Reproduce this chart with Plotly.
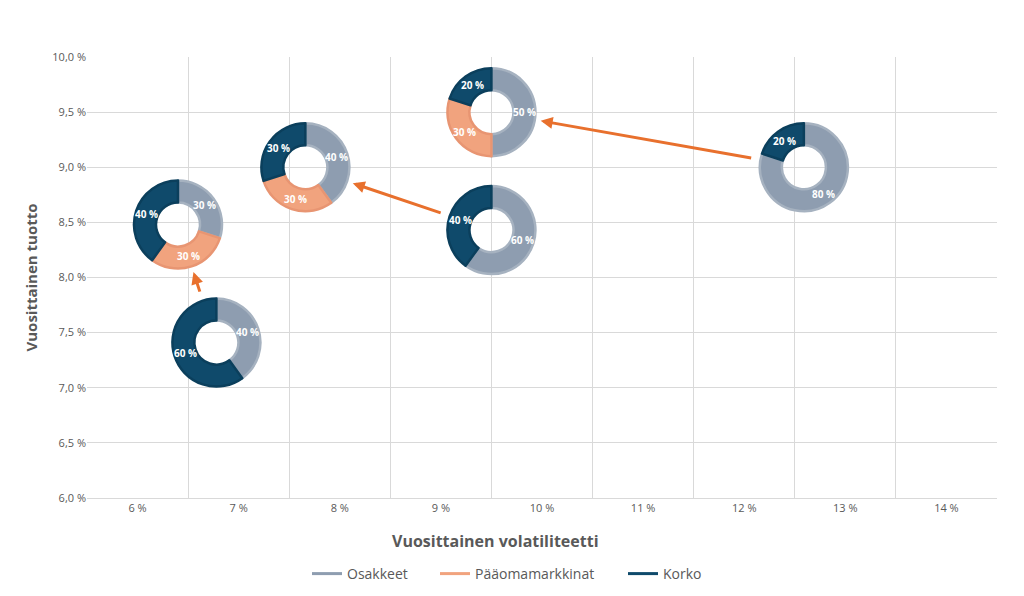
import math
import plotly.graph_objects as go

# ---- data ----
categories = ["Osakkeet", "Pääomamarkkinat", "Korko"]
colors = ["#8e9db0", "#f1a37e", "#0f4a6b"]
line_colors = ["#a6b2c0", "#e89572", "#0b3f5c"]

port_x = [6.40, 6.78, 7.66, 9.50, 9.50, 12.59]
port_y = [8.48, 7.41, 9.00, 8.43, 9.50, 9.00]
osakkeet = [30, 40, 40, 60, 50, 80]
paaoma = [30, 0, 30, 0, 30, 0]
korko = [40, 60, 30, 40, 20, 20]

# arrows: (from index, to index)
arrows = [(1, 0), (3, 2), (5, 4)]

x_ticks = [6, 7, 8, 9, 10, 11, 12, 13, 14]
x_ticklabels = ["6 %", "7 %", "8 %", "9 %", "10 %", "11 %", "12 %", "13 %", "14 %"]
y_ticks = [6.0, 6.5, 7.0, 7.5, 8.0, 8.5, 9.0, 9.5, 10.0]
y_ticklabels = ["6,0 %", "6,5 %", "7,0 %", "7,5 %", "8,0 %", "8,5 %", "9,0 %", "9,5 %", "10,0 %"]

# ---- layout geometry ----
W, H = 1024, 596
ML, MR, MT, MB = 87, 27, 57, 98
PW, PH = W - ML - MR, H - MT - MB
XR = [5.5, 14.5]
YR = [6.0, 10.0]
R_PX = 44
HOLE = 0.5
R_LBL = R_PX * (1 + HOLE) / 2

FONT = "Open Sans"
TXT = "#595959"

fig = go.Figure()

def to_dom(vx, vy):
    fx = (vx - XR[0]) / (XR[1] - XR[0])
    fy = (vy - YR[0]) / (YR[1] - YR[0])
    return fx, fy

# invisible scatter to hold axes
fig.add_trace(go.Scatter(x=port_x, y=port_y, mode="markers",
                         marker=dict(size=1, opacity=0), showlegend=False, hoverinfo="skip"))

for i in range(len(port_x)):
    vals = [osakkeet[i], paaoma[i], korko[i]]
    labs, v, c, lc = [], [], [], []
    for k in range(3):
        if vals[k] > 0:
            labs.append(categories[k]); v.append(vals[k]); c.append(colors[k]); lc.append(line_colors[k])
    fx, fy = to_dom(port_x[i], port_y[i])
    dx = R_PX / PW
    dy = R_PX / PH
    fig.add_trace(go.Pie(
        labels=labs, values=v, hole=HOLE, sort=False, direction="clockwise", rotation=0,
        marker=dict(colors=c, line=dict(color=lc, width=2.5)),
        textinfo="none",
        domain=dict(x=[fx - dx, fx + dx], y=[fy - dy, fy + dy]),
        showlegend=False, hoverinfo="label+value",
    ))
    # slice labels at mid-angle of each slice, mid-ring radius
    total = sum(v)
    cum = 0
    for val in v:
        mid = (cum + val / 2) / total * 2 * math.pi
        cum += val
        fig.add_annotation(x=port_x[i], y=port_y[i], xref="x", yref="y",
                           xshift=R_LBL * math.sin(mid), yshift=R_LBL * math.cos(mid),
                           text=f"<b>{val} %</b>", showarrow=False,
                           font=dict(family=FONT, size=10, color="white"))

for a, b in arrows:
    fig.add_annotation(x=port_x[b], y=port_y[b], ax=port_x[a], ay=port_y[a],
                       xref="x", yref="y", axref="x", ayref="y",
                       showarrow=True, arrowhead=2, arrowsize=0.8, arrowwidth=3,
                       arrowcolor="#e8702d", standoff=50, startstandoff=52, text="")

# legend dummy traces, each in its own legend for exact placement
legend_x_px = [307, 435, 623]
leg_names = ["legend", "legend2", "legend3"]
for k in range(3):
    fig.add_trace(go.Scatter(x=[None], y=[None], mode="lines", name=categories[k],
                             line=dict(color=colors[k], width=3), legend=leg_names[k]))

fig.add_annotation(text="<b>Vuosittainen volatiliteetti</b>", xref="paper", yref="paper",
                   x=(495 - ML) / PW, y=-(541 - MT - PH) / PH, showarrow=False,
                   font=dict(family=FONT, size=16, color=TXT), xanchor="center", yanchor="middle")
fig.add_annotation(text="<b>Vuosittainen tuotto</b>", xref="paper", yref="paper",
                   x=(30 - ML) / PW, y=0.5, showarrow=False, textangle=-90,
                   font=dict(family=FONT, size=15, color=TXT), xanchor="center", yanchor="middle")

leg_common = dict(orientation="h", yanchor="middle", y=-(574 - MT - PH) / PH,
                  xanchor="left", font=dict(size=14, color=TXT, family=FONT),
                  bgcolor="rgba(0,0,0,0)", itemwidth=30)

fig.update_layout(
    width=W, height=H, margin=dict(l=ML, r=MR, t=MT, b=MB, autoexpand=False),
    plot_bgcolor="white", paper_bgcolor="white",
    font=dict(family=FONT, color=TXT, size=11),
    xaxis=dict(range=XR, tickvals=x_ticks, ticktext=x_ticklabels, showgrid=False,
               zeroline=False, showline=True, linecolor="#d9d9d9", ticks="",
               minor=dict(tick0=5.5, dtick=1, showgrid=True, gridcolor="#d9d9d9", gridwidth=1),
               tickfont=dict(size=11, color=TXT), fixedrange=True),
    yaxis=dict(range=YR, tickvals=y_ticks, ticktext=y_ticklabels, showgrid=True,
               gridcolor="#d9d9d9", zeroline=False, showline=False, ticks="",
               tickfont=dict(size=11, color=TXT), fixedrange=True),
    legend=dict(leg_common, x=(legend_x_px[0] - ML) / PW),
    legend2=dict(leg_common, x=(legend_x_px[1] - ML) / PW),
    legend3=dict(leg_common, x=(legend_x_px[2] - ML) / PW),
    showlegend=True,
)

fig.write_html("out.html", config={"displayModeBar": False},
               post_script="document.body.style.margin='0';")
